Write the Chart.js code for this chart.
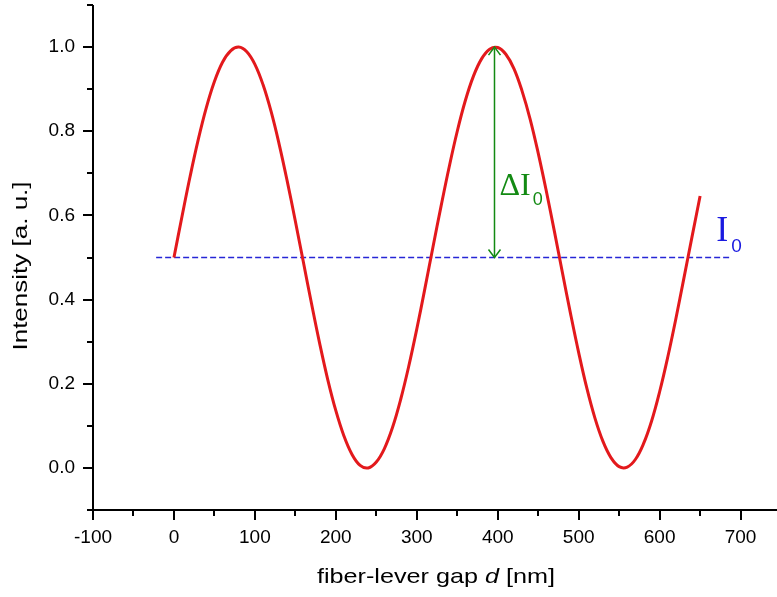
<!DOCTYPE html>
<html>
<head>
<meta charset="utf-8">
<script src="https://cdn.jsdelivr.net/npm/chart.js@4/dist/chart.umd.min.js"></script>
<style>
  html, body { margin: 0; padding: 0; background: #fff; }
  #wrap { width: 777px; height: 597px; }
</style>
</head>
<body>
<div id="wrap"><canvas id="chart" width="777" height="597"></canvas></div>
<script>
// fiber-lever gap d [nm] and normalised intensity
const gap = [0, 10, 20, 30, 40, 50, 60, 70, 80, 90, 100, 110, 120, 130, 140, 150, 160, 170, 180, 190,
  200, 210, 220, 230, 240, 250, 260, 270, 280, 290, 300, 310, 320, 330, 340, 350, 360, 370, 380, 390,
  400, 410, 420, 430, 440, 450, 460, 470, 480, 490, 500, 510, 520, 530, 540, 550, 560, 570, 580, 590,
  600, 610, 620, 630, 640, 650];
const intensity = [0.500, 0.598, 0.693, 0.780, 0.856, 0.918, 0.964, 0.991, 1.000, 0.989,
  0.959, 0.911, 0.847, 0.769, 0.681, 0.586, 0.488, 0.390, 0.296, 0.210,
  0.136, 0.076, 0.032, 0.006, 0.000, 0.014, 0.046, 0.096, 0.162, 0.241,
  0.330, 0.426, 0.525, 0.622, 0.715, 0.800, 0.873, 0.931, 0.972, 0.995,
  0.999, 0.983, 0.949, 0.896, 0.829, 0.748, 0.658, 0.562, 0.463, 0.366,
  0.274, 0.190, 0.119, 0.063, 0.024, 0.003, 0.002, 0.020, 0.057, 0.111,
  0.181, 0.263, 0.354, 0.451, 0.549, 0.646];

// I0 reference level (dashed) and the delta-I0 arrow
const refLevel = 0.5;
const refFrom = -22, refTo = 689;
const arrowX = 396;
const arrowTop = 1.0, arrowBottom = 0.5;

// axis ticks
const xTicks = [-100, -50, 0, 50, 100, 150, 200, 250, 300, 350, 400, 450, 500, 550, 600, 650, 700];
const xLabels = ['-100', '', '0', '', '100', '', '200', '', '300', '', '400', '', '500', '', '600', '', '700'];
const yTicks = [-0.1, 0.0, 0.1, 0.2, 0.3, 0.4, 0.5, 0.6, 0.7, 0.8, 0.9, 1.0, 1.1];
const yLabels = ['', '0.0', '', '0.2', '', '0.4', '', '0.6', '', '0.8', '', '1.0', ''];

const curvePts = gap.map((g, i) => ({ x: g, y: intensity[i] }));

const SANS = '"Liberation Sans", Arial, sans-serif';
const SERIF = '"Liberation Serif", "Times New Roman", serif';

const frame = {
  id: 'frame',
  afterDraw(chart) {
    const { ctx, chartArea: a, scales: { x, y } } = chart;
    ctx.save();
    ctx.strokeStyle = '#000';
    ctx.lineWidth = 2;
    ctx.beginPath();
    ctx.moveTo(a.left, a.top);
    ctx.lineTo(a.left, a.bottom);
    ctx.lineTo(a.right, a.bottom);
    ctx.stroke();

    ctx.beginPath();
    xTicks.forEach((v, i) => {
      const px = Math.round(x.getPixelForValue(v));
      const len = xLabels[i] ? 10 : 6;
      ctx.moveTo(px, a.bottom);
      ctx.lineTo(px, a.bottom + len);
    });
    yTicks.forEach((v, i) => {
      const py = Math.round(y.getPixelForValue(v));
      const len = yLabels[i] ? 10 : 6;
      ctx.moveTo(a.left, py);
      ctx.lineTo(a.left - len, py);
    });
    ctx.stroke();

    // axis titles (the original type is set a little wide)
    ctx.fillStyle = '#000';
    ctx.textBaseline = 'alphabetic';
    ctx.font = '20px ' + SANS;
    ctx.save();
    ctx.translate(27, 266);
    ctx.rotate(-Math.PI / 2);
    ctx.scale(1.3, 1);
    ctx.textAlign = 'center';
    ctx.fillText('Intensity [a. u.]', 0, 0);
    ctx.restore();

    const parts = [['fiber-lever gap ', ''], ['d', 'italic '], [' [nm]', '']];
    let total = 0;
    parts.forEach(p => { ctx.font = p[1] + '21px ' + SANS; total += ctx.measureText(p[0]).width; });
    ctx.save();
    ctx.translate(436, 583);
    ctx.scale(1.2, 1);
    let cx = -total / 2;
    ctx.textAlign = 'left';
    parts.forEach(p => {
      ctx.font = p[1] + '21px ' + SANS;
      ctx.fillText(p[0], cx, 0);
      cx += ctx.measureText(p[0]).width;
    });
    ctx.restore();

    // arrow heads
    const ax = x.getPixelForValue(arrowX);
    const ay1 = y.getPixelForValue(arrowTop);
    const ay2 = y.getPixelForValue(arrowBottom);
    ctx.strokeStyle = '#138a13';
    ctx.lineWidth = 1.5;
    ctx.beginPath();
    ctx.moveTo(ax - 6, ay1 + 8); ctx.lineTo(ax, ay1); ctx.lineTo(ax + 6, ay1 + 8);
    ctx.moveTo(ax - 6, ay2 - 8); ctx.lineTo(ax, ay2); ctx.lineTo(ax + 6, ay2 - 8);
    ctx.stroke();

    // labels
    ctx.fillStyle = '#138a13';
    ctx.font = '32px ' + SERIF;
    const lx = ax + 5, ly = y.getPixelForValue(0.649);
    ctx.fillText('\u0394I', lx, ly);
    const w1 = ctx.measureText('\u0394I').width;
    ctx.font = '18px ' + SANS;
    ctx.fillText('0', lx + w1 + 2, ly + 10);

    ctx.fillStyle = '#1a1ae0';
    ctx.font = '36px ' + SERIF;
    const ix = x.getPixelForValue(670), iy = y.getPixelForValue(0.539);
    ctx.fillText('I', ix, iy);
    const w2 = ctx.measureText('I').width;
    ctx.font = '19px ' + SANS;
    ctx.fillText('0', ix + w2 + 3, iy + 11);
    ctx.restore();
  }
};

new Chart(document.getElementById('chart'), {
  type: 'line',
  data: {
    datasets: [
      {
        data: curvePts,
        borderColor: '#e3191c',
        borderWidth: 3,
        pointRadius: 0,
        tension: 0.4
      },
      {
        data: [{ x: refFrom, y: refLevel }, { x: refTo, y: refLevel }],
        borderColor: '#2626d6',
        borderWidth: 1.5,
        borderDash: [6, 3],
        pointRadius: 0
      },
      {
        data: [{ x: arrowX, y: arrowTop }, { x: arrowX, y: arrowBottom }],
        borderColor: '#138a13',
        borderWidth: 1.5,
        pointRadius: 0
      }
    ]
  },
  options: {
    responsive: false,
    animation: false,
    layout: { padding: { top: 5, right: 0, bottom: 0, left: 0 } },
    plugins: { legend: { display: false }, tooltip: { enabled: false } },
    scales: {
      x: {
        type: 'linear',
        min: -100,
        max: 745,
        grid: { display: false, drawTicks: false },
        border: { display: false },
        afterBuildTicks: s => { s.ticks = xTicks.map(v => ({ value: v })); },
        afterFit: s => { s.height = 87; s.paddingLeft = 0; s.paddingRight = 0; },
        ticks: {
          autoSkip: false,
          maxRotation: 0,
          padding: 16,
          color: '#000',
          font: { family: SANS, size: 19 },
          callback: (v, i) => xLabels[i]
        }
      },
      y: {
        min: -0.1,
        max: 1.1,
        grid: { display: false, drawTicks: false },
        border: { display: false },
        afterBuildTicks: s => { s.ticks = yTicks.map(v => ({ value: v })); },
        afterFit: s => { s.width = 93; s.paddingTop = 0; s.paddingBottom = 0; },
        ticks: {
          autoSkip: false,
          padding: 18,
          color: '#000',
          font: { family: SANS, size: 19 },
          callback: (v, i) => yLabels[i]
        }
      }
    }
  },
  plugins: [frame]
});
</script>
</body>
</html>
